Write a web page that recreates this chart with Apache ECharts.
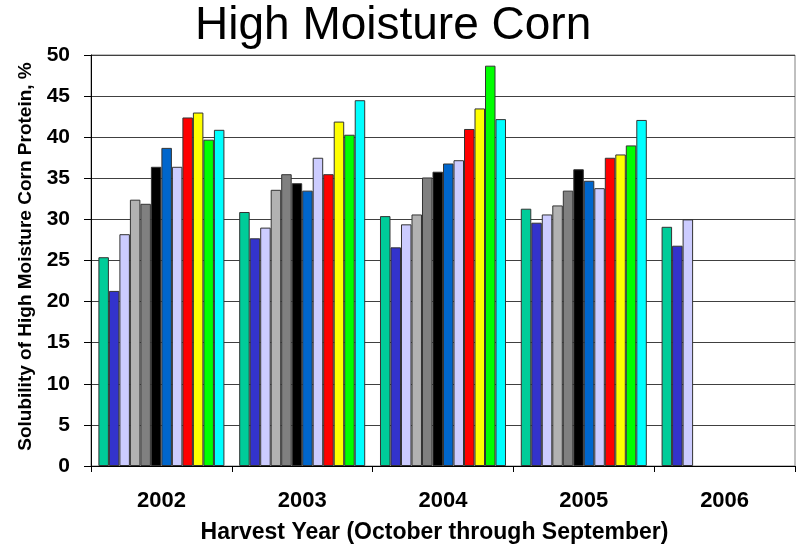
<!DOCTYPE html>
<html>
<head>
<meta charset="utf-8">
<script src="https://cdn.jsdelivr.net/npm/echarts@6/dist/echarts.min.js"></script>
<style>
  html, body { margin: 0; padding: 0; background: #fff; }
  #chart { width: 800px; height: 544px; }
</style>
</head>
<body>
<div id="chart"></div>
<script>
// Harvest years on the category axis
const years = ['2002', '2003', '2004', '2005', '2006'];

// Monthly protein solubility (%), one value per harvest year
const oct = [25.4, 30.9, 30.4, 31.3, 29.1];
const nov = [21.3, 27.7, 26.6, 29.6, 26.8];
const dec = [28.2, 29.0, 29.4, 30.6, 30.0];
const jan = [32.4, 33.6, 30.6, 31.7, null];
const feb = [31.9, 35.5, 35.1, 33.5, null];
const mar = [36.4, 34.4, 35.8, 36.1, null];
const apr = [38.7, 33.5, 36.8, 34.7, null];
const may = [36.4, 37.5, 37.2, 33.8, null];
const jun = [42.4, 35.5, 41.0, 37.5, null];
const jul = [43.0, 41.9, 43.5, 37.9, null];
const aug = [39.7, 40.3, 48.7, 39.0, null];
const sep = [40.9, 44.5, 42.2, 42.1, null];

const monthNames = ['October', 'November', 'December', 'January', 'February', 'March',
                    'April', 'May', 'June', 'July', 'August', 'September'];
const monthValues = [oct, nov, dec, jan, feb, mar, apr, may, jun, jul, aug, sep];
const monthColors = ['#00CC99', '#3333CC', '#CCCCFF', '#B2B2B2', '#808080', '#000000',
                     '#0066CC', '#CCCCFF', '#FF0000', '#FFFF00', '#00FF00', '#00FFFF'];

const font = "'Liberation Sans', Arial, sans-serif";

const chart = echarts.init(document.getElementById('chart'), null, { renderer: 'canvas' });

chart.setOption({
  animation: false,
  backgroundColor: '#ffffff',
  title: {
    text: 'High Moisture Corn',
    left: 195,
    top: 3,
    padding: 0,
    textStyle: { fontFamily: font, fontSize: 46, fontWeight: 'normal', color: '#000' }
  },
  grid: {
    left: 91, right: 5, top: 55, bottom: 78,
    containLabel: false,
    outerBoundsMode: 'none',
    show: true, borderColor: '#808080', borderWidth: 1, backgroundColor: 'transparent'
  },
  xAxis: {
    type: 'category',
    data: years,
    axisLine: { lineStyle: { color: '#000', width: 1 } },
    axisTick: { show: true, length: 6, lineStyle: { color: '#000' } },
    axisLabel: { fontFamily: font, fontSize: 22, fontWeight: 'bold', color: '#000', margin: 24 },
    name: 'Harvest Year (October through September)',
    nameLocation: 'middle',
    nameGap: 55,
    nameTextStyle: { fontFamily: font, fontSize: 23, fontWeight: 'bold', color: '#000', padding: [0, 17, 0, 0] }
  },
  yAxis: {
    type: 'value',
    min: 0, max: 50, interval: 5,
    axisLine: { show: true, lineStyle: { color: '#000', width: 1 } },
    axisTick: { show: true, length: 7, lineStyle: { color: '#000' } },
    axisLabel: { fontFamily: font, fontSize: 21, fontWeight: 'bold', color: '#000', margin: 21 },
    splitLine: { show: true, lineStyle: { color: '#404040', width: 1 } },
    name: 'Solubility of High Moisture Corn Protein, %',
    nameLocation: 'middle',
    nameGap: 51,
    nameTextStyle: { fontFamily: font, fontSize: 19, fontWeight: 'bold', color: '#000', padding: [0, 0, 0, 8] }
  },
  series: monthNames.map((name, i) => ({
    name: name,
    type: 'bar',
    data: monthValues[i],
    barGap: '0%',
    barCategoryGap: '10.5%',
    itemStyle: { color: monthColors[i], borderColor: '#333333', borderWidth: 1 }
  }))
});
</script>
</body>
</html>
